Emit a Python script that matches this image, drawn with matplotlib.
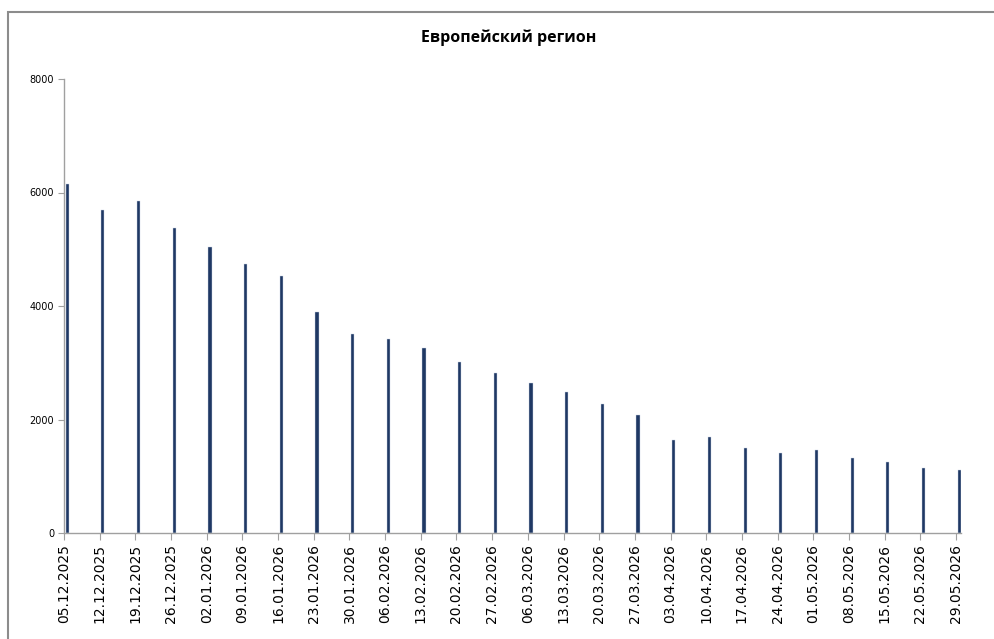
import matplotlib
matplotlib.use("Agg")
import matplotlib.pyplot as plt
from matplotlib.patches import Rectangle

dates = ["05.12.2025", "12.12.2025", "19.12.2025", "26.12.2025", "02.01.2026",
         "09.01.2026", "16.01.2026", "23.01.2026", "30.01.2026", "06.02.2026",
         "13.02.2026", "20.02.2026", "27.02.2026", "06.03.2026", "13.03.2026",
         "20.03.2026", "27.03.2026", "03.04.2026", "10.04.2026", "17.04.2026",
         "24.04.2026", "01.05.2026", "08.05.2026", "15.05.2026", "22.05.2026",
         "29.05.2026"]
values = [6150, 5690, 5845, 5375, 5045, 4735, 4525, 3890, 3510, 3425,
          3260, 3020, 2825, 2645, 2480, 2275, 2075, 1640, 1685, 1505,
          1415, 1465, 1315, 1250, 1145, 1105]
y_ticks = [0, 2000, 4000, 6000, 8000]

W, H = 995, 639
fig = plt.figure(figsize=(W / 100, H / 100), dpi=100)

# outer chart border
fig.patches.append(Rectangle((8 / W, 1 - 660 / H), 1.0, (660 - 12) / H,
                             transform=fig.transFigure, fill=False,
                             edgecolor="#8c8c8c", lw=1.5, clip_on=False))

ax = fig.add_axes([64 / W, 1 - 533 / H, (961 - 64) / W, (533 - 79) / H])

x = [i + 0.09 for i in range(len(values))]
ax.bar(x, values, width=0.09, color="#1f3864", edgecolor="#c9d3e3", linewidth=0.3)

ax.set_xlim(0, 25.14)
ax.set_ylim(0, 8000)
ax.set_xticks(range(len(dates)))
ax.set_xticklabels(dates, rotation=90, fontsize=10, family="DejaVu Sans")
ax.set_yticks(y_ticks)
ax.set_yticklabels([str(v) for v in y_ticks], fontsize=7, family="DejaVu Sans")

for s in ["top", "right"]:
    ax.spines[s].set_visible(False)
for s in ["left", "bottom"]:
    ax.spines[s].set_color("#a0a0a0")
    ax.spines[s].set_linewidth(1)
ax.tick_params(axis="x", length=5, color="#a0a0a0", pad=3)
ax.tick_params(axis="y", length=4, color="#a0a0a0", pad=3)

fig.text(509 / W, 1 - 38 / H, "Европейский регион", ha="center", va="center",
         fontsize=11.5, fontweight="bold", family="Open Sans")

fig.savefig("out.png", dpi=100)
